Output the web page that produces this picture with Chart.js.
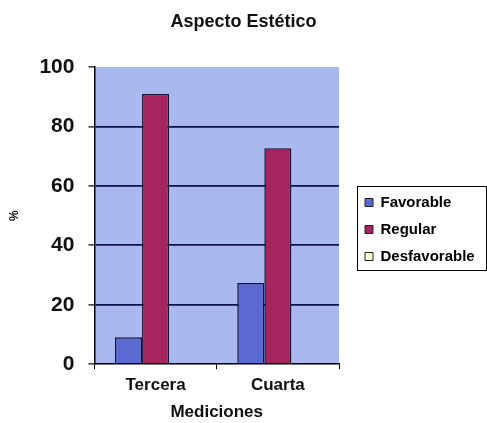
<!DOCTYPE html>
<html>
<head>
<meta charset="utf-8">
<script src="https://cdn.jsdelivr.net/npm/chart.js@4/dist/chart.umd.min.js"></script>
<style>
  html, body { margin: 0; padding: 0; background: #ffffff; }
  #wrap { width: 487px; height: 423px; }
</style>
</head>
<body>
<div id="wrap"><canvas id="c" width="487" height="423"></canvas></div>
<script>
// Categories and series (percent)
const categories = ['Tercera', 'Cuarta'];
const favorable = [9.1, 27.3];
const regular = [90.9, 72.7];
const desfavorable = [0, 0];
const yTicks = [0, 20, 40, 60, 80, 100];

const FONT = "'Liberation Sans', Arial, sans-serif";

// Legend column: fixed width on the right, items indented inside a framed box
const LEGEND_WIDTH = 148;
const LEGEND_INDENT = 14;
const LEGEND_DROP = 18;

const legendFrame = {
  id: 'legendFrame',
  beforeLayout(chart) {
    const lg = chart.legend;
    if (lg && !lg._fixedFit) {
      const orig = lg.fit;
      lg.fit = function () {
        orig.call(this);
        this.width = LEGEND_WIDTH;
      };
      lg._fixedFit = true;
    }
  },
  afterLayout(chart) {
    const lg = chart.legend;
    if (!lg) return;
    lg.left += LEGEND_INDENT;
    lg.top += LEGEND_DROP;
    lg.bottom += LEGEND_DROP;
  },
  beforeDraw(chart) {
    const { ctx, chartArea: a } = chart;
    ctx.save();
    ctx.fillStyle = '#a9b9ef';
    ctx.fillRect(a.left, a.top, a.right - a.left, a.bottom - a.top);
    ctx.restore();
  },
  afterDraw(chart) {
    const lg = chart.legend;
    if (!lg || !lg.legendHitBoxes || !lg.legendHitBoxes.length) return;
    let l = Infinity, t = Infinity, r = -Infinity, b = -Infinity;
    lg.legendHitBoxes.forEach(h => {
      l = Math.min(l, h.left); t = Math.min(t, h.top);
      r = Math.max(r, h.left + h.width); b = Math.max(b, h.top + h.height);
    });
    const ctx = chart.ctx;
    ctx.save();
    ctx.strokeStyle = '#000000';
    ctx.lineWidth = 1;
    const x0 = Math.round(l - 8) + 0.5, y0 = Math.round(t - 9) + 0.5;
    const x1 = Math.min(Math.round(r + 11), chart.width - 1) + 0.5, y1 = Math.round(b + 6) + 0.5;
    ctx.strokeRect(x0, y0, x1 - x0, y1 - y0);
    ctx.restore();
  }
};

new Chart(document.getElementById('c'), {
  type: 'bar',
  data: {
    labels: categories,
    datasets: [
      { label: 'Favorable', data: favorable, backgroundColor: '#5a6ad2', borderColor: '#14143a', borderWidth: 1.5 },
      { label: 'Regular', data: regular, backgroundColor: '#a6255f', borderColor: '#14143a', borderWidth: 1.5 },
      { label: 'Desfavorable', data: desfavorable, backgroundColor: '#ffffcc', borderColor: '#14143a', borderWidth: 1.5 }
    ]
  },
  options: {
    responsive: false,
    animation: false,
    devicePixelRatio: 1,
    layout: { padding: { left: 0, right: 0, top: 0, bottom: 0 } },
    datasets: { bar: { categoryPercentage: 0.664, barPercentage: 1.0 } },
    plugins: {
      title: {
        display: true,
        text: 'Aspecto Estético',
        color: '#111111',
        font: { family: FONT, size: 18, weight: 'bold' },
        padding: { top: 11, bottom: 34.4 }
      },
      legend: {
        position: 'right',
        labels: {
          color: '#111111',
          font: { family: FONT, size: 15, weight: 'bold' },
          boxWidth: 8,
          boxHeight: 8,
          padding: 12,
          useBorderRadius: false,
          generateLabels(chart) {
            return chart.data.datasets.map((ds, i) => ({
              text: ds.label,
              fillStyle: ds.backgroundColor,
              strokeStyle: '#222222',
              lineWidth: 1,
              datasetIndex: i,
              hidden: false
            }));
          }
        }
      },
      tooltip: { enabled: false }
    },
    scales: {
      x: {
        offset: true,
        grid: { display: true, drawOnChartArea: false, offset: true, color: '#000000', tickLength: 5, tickWidth: 1 },
        border: { display: true, color: '#000000', width: 1.5 },
        ticks: { color: '#111111', font: { family: FONT, size: 17, weight: 'bold' }, padding: 6 },
        title: {
          display: true, text: 'Mediciones', color: '#111111',
          font: { family: FONT, size: 17, weight: 'bold' }, padding: { top: 1, bottom: 0 }
        }
      },
      y: {
        min: 0, max: 100,
        afterBuildTicks(scale) { scale.ticks = yTicks.map(v => ({ value: v })); },
        grid: {
          color: (c) => (c.tick && (c.tick.value === 0 || c.tick.value === 100)) ? 'rgba(0,0,0,0)' : '#12124a',
          lineWidth: 1.8,
          tickColor: '#000000',
          tickWidth: 1.2,
          tickLength: 6
        },
        border: { display: true, color: '#000000', width: 1.5 },
        ticks: { color: '#111111', font: { family: FONT, size: 21, weight: 'bold' }, padding: 14 },
        title: {
          display: true, text: '%', color: '#111111',
          font: { family: FONT, size: 12, weight: 'bold' }, padding: { top: 7, bottom: 4 }
        }
      }
    }
  },
  plugins: [legendFrame]
});
</script>
</body>
</html>
